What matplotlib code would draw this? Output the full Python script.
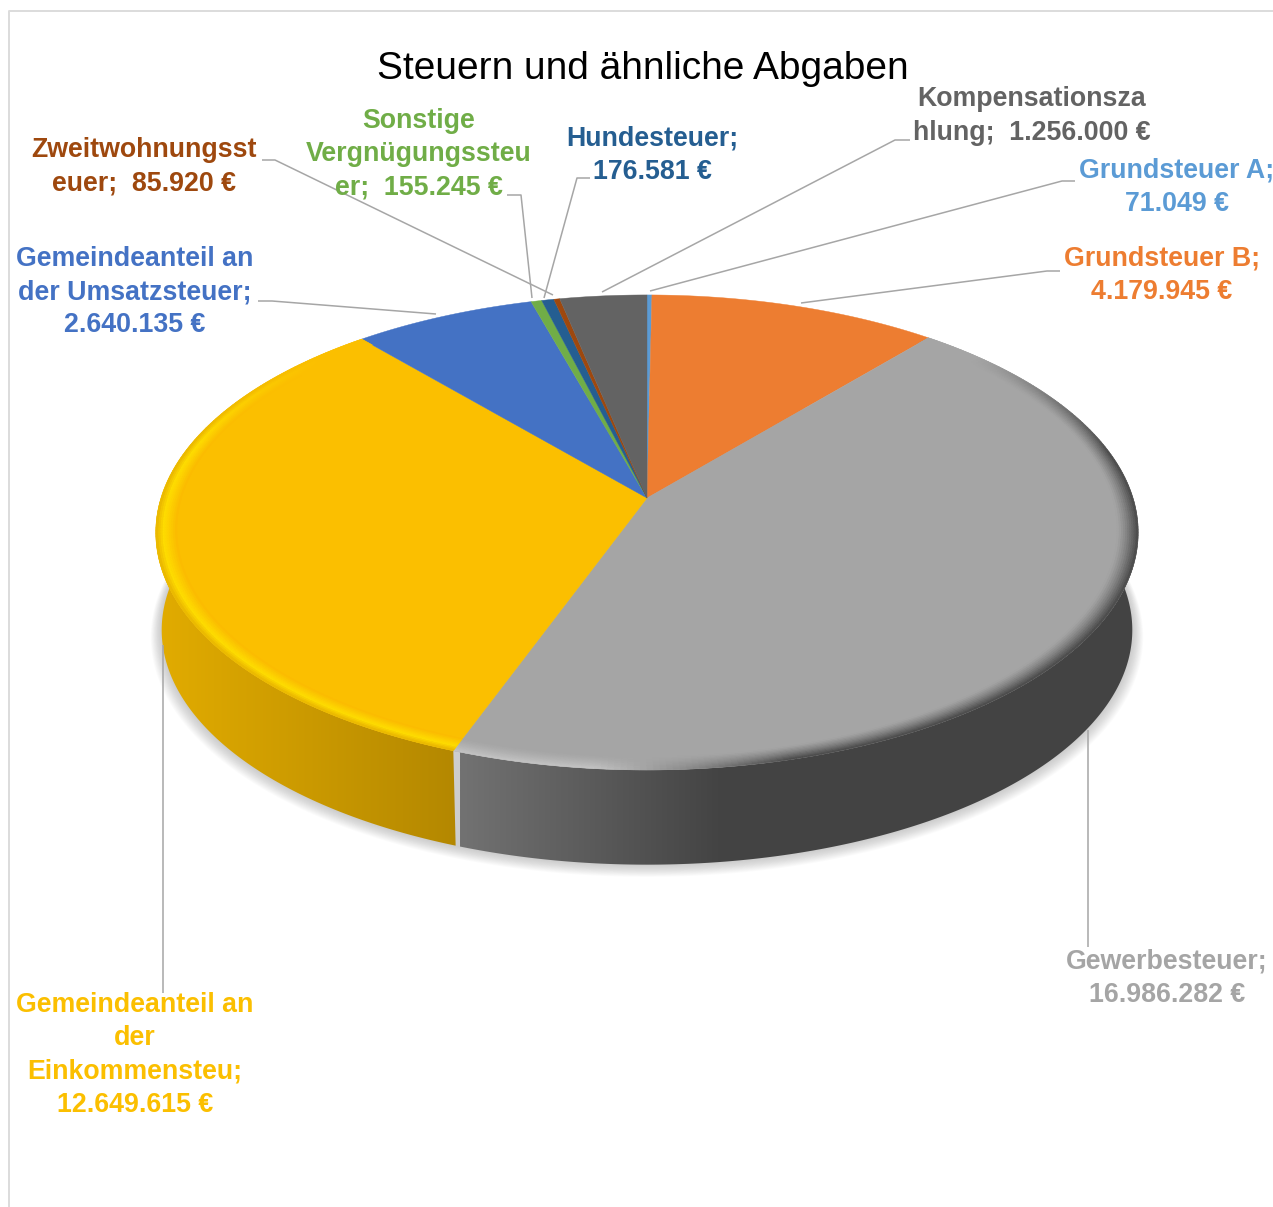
import numpy as np
import matplotlib
matplotlib.use('Agg')
import matplotlib.pyplot as plt
from matplotlib.collections import PolyCollection
from matplotlib.colors import LinearSegmentedColormap, to_rgb
from matplotlib.patches import Polygon

plt.rcParams['font.family'] = ['Liberation Sans', 'DejaVu Sans']

title = 'Steuern und ähnliche Abgaben'
names = ['Grundsteuer A', 'Grundsteuer B', 'Gewerbesteuer',
         'Gemeindeanteil an der Einkommensteu', 'Gemeindeanteil an der Umsatzsteuer',
         'Sonstige Vergnügungssteuer', 'Hundesteuer', 'Zweitwohnungssteuer',
         'Kompensationszahlung']
values = [71049, 4179945, 16986282, 12649615, 2640135, 155245, 176581, 85920, 1256000]
colors = ['#5B9BD5', '#ED7D31', '#A5A5A5', '#FBBF00', '#4472C4',
          '#70AD47', '#255E91', '#9E480E', '#636363']
# wrapped the way the chart wraps them
labels = ['Grundsteuer A;\n71.049 €', 'Grundsteuer B;\n4.179.945 €',
          'Gewerbesteuer;\n16.986.282 €',
          'Gemeindeanteil an\nder\nEinkommensteu;\n12.649.615 €',
          'Gemeindeanteil an\nder Umsatzsteuer;\n2.640.135 €',
          'Sonstige\nVergnügungssteu\ner;  155.245 €',
          'Hundesteuer;\n176.581 €', 'Zweitwohnungsst\neuer;  85.920 €',
          'Kompensationsza\nhlung;  1.256.000 €']
label_pos = [(1177, 187), (1162, 275), (1167, 978), (135, 1055), (135, 292),
             (419, 154), (652, 155), (144, 167), (1032, 116)]
leaders = [[(650, 291), (1062, 181), (1075, 181)],
           [(801, 303), (1047, 271), (1060, 271)],
           [(1088, 730), (1088, 947)],
           [(163, 645), (163, 993)],
           [(436, 314), (272, 301), (258, 301)],
           [(532, 298), (521, 195), (507, 195)],
           [(544, 298), (577, 178), (590, 178)],
           [(553, 295), (275, 160), (262, 160)],
           [(602, 292), (895, 140), (910, 140)]]

# perspective of the disc, pixels of the picture
CX, CY = 647, 498
RX, RY = 486, 232.5
K = 0.145
DROP = 98
BOTTOM_SCALE = 0.988


def project(theta, r=1.0, scale=1.0, dy=0.0):
    # theta in degrees clockwise from the top of the disc
    t = np.radians(theta)
    u, v = r*np.sin(t), r*np.cos(t)
    w = 1 + K*v
    return np.column_stack((CX + scale*RX*u/w, CY - scale*RY*v/w + dy))


def arc(a, b, r=1.0, scale=1.0, dy=0.0):
    n = max(int(abs(b-a)*3), 2)
    return project(np.linspace(a, b, n), r, scale, dy)


def mix(c1, c2, f):
    return tuple((1-f)*x + f*y for x, y in zip(to_rgb(c1), to_rgb(c2)))


fig = plt.figure(figsize=(12.73, 12.07), dpi=100)
ax = fig.add_axes([0, 0, 1, 1])
ax.axis('off')

# chart frame, only top and left are in the crop
ax.plot([9, 9, 1273], [1207, 11, 11], color='#DCDCDC', lw=1.4, zorder=1)

# soft shadow under the disc
outline = arc(0, 360, scale=BOTTOM_SCALE, dy=DROP)
for i in range(14):
    s = 1 + 0.0016*(14-i)
    pts = (outline - [CX, 540])*s + [CX, 540 + 0.35*(14-i)]
    ax.add_patch(Polygon(pts, fc='#808080', ec='none', alpha=0.032, zorder=2))

edges = np.concatenate(([0], np.cumsum(values)))/np.sum(values)*360

# sides, only the two big slices show at the front
side_stops = {2: [(0.0, '#727272'), (0.38, '#444444'), (1.0, '#434343')],
              3: [(0.0, '#E2AC00'), (1.0, '#B38700')]}
side_span = {2: (460, 1138), 3: (155, 462)}
for i in (2, 3):
    a, b = edges[i], edges[i+1]
    poly = np.vstack((arc(a, b), arc(a, b, scale=BOTTOM_SCALE, dy=DROP)[::-1]))
    patch = Polygon(poly, fc='none', ec='none', transform=ax.transData)
    ax.add_patch(patch)
    cmap = LinearSegmentedColormap.from_list('side', side_stops[i])
    im = ax.imshow(np.linspace(0, 1, 256).reshape(1, -1), cmap=cmap, aspect='auto',
                   extent=(side_span[i][0], side_span[i][1], 900, 500), zorder=3)
    im.set_clip_path(patch)

# top face
for i in range(len(values)):
    a, b = edges[i], edges[i+1]
    poly = np.vstack(([[CX, CY]], arc(a, b)))
    ax.add_patch(Polygon(poly, fc=colors[i], ec=colors[i], lw=0.3, zorder=4))


# bevel along the front rim
def bevel_yellow(theta, r):
    fade = np.clip((312 - theta)/28, 0, 1)
    f = (r - 0.962)/0.038
    if f < 0.6:
        c = mix(colors[3], '#FFDD00', f/0.6)
    else:
        c = mix('#FFDD00', '#E8B400', (f-0.6)/0.4)
    return mix(colors[3], c, fade)


def bevel_gray(theta, r):
    f = (r - 0.958)/0.042
    edge = mix('#474747', '#C4C4C4', np.clip((theta - 165)/20, 0, 1))
    fade = np.clip((theta - 48)/30, 0, 1)
    return mix(colors[2], edge, fade*f**1.3)


rings = np.linspace(0.958, 1.0, 11)
for a, b, func in ((edges[2], edges[3], bevel_gray), (edges[3], edges[4], bevel_yellow)):
    th = np.linspace(a, b, int((b-a)*1.5))
    quads, cols = [], []
    for r0, r1 in zip(rings[:-1], rings[1:]):
        p0, p1 = project(th, r0), project(th, r1)
        for j in range(len(th)-1):
            quads.append([p0[j], p0[j+1], p1[j+1], p1[j]])
            cols.append(func(th[j], (r0+r1)/2))
    ax.add_collection(PolyCollection(quads, facecolors=cols, edgecolors=cols,
                                     linewidths=0.4, zorder=5))

# leader lines
for line in leaders:
    xs, ys = zip(*line)
    ax.plot(xs, ys, color='#A6A6A6', lw=1.1, zorder=6, solid_capstyle='butt')

# labels
for i in range(len(labels)):
    ax.text(label_pos[i][0], label_pos[i][1], labels[i], color=colors[i], fontsize=19.3,
            fontweight='bold', ha='center', va='center', linespacing=1.37, zorder=7)

ax.text(643, 69, title, color='black', fontsize=28, ha='center', va='center', zorder=7)

ax.set_xlim(0, 1273)
ax.set_ylim(1207, 0)
fig.savefig('out.png', dpi=100, facecolor='white')
